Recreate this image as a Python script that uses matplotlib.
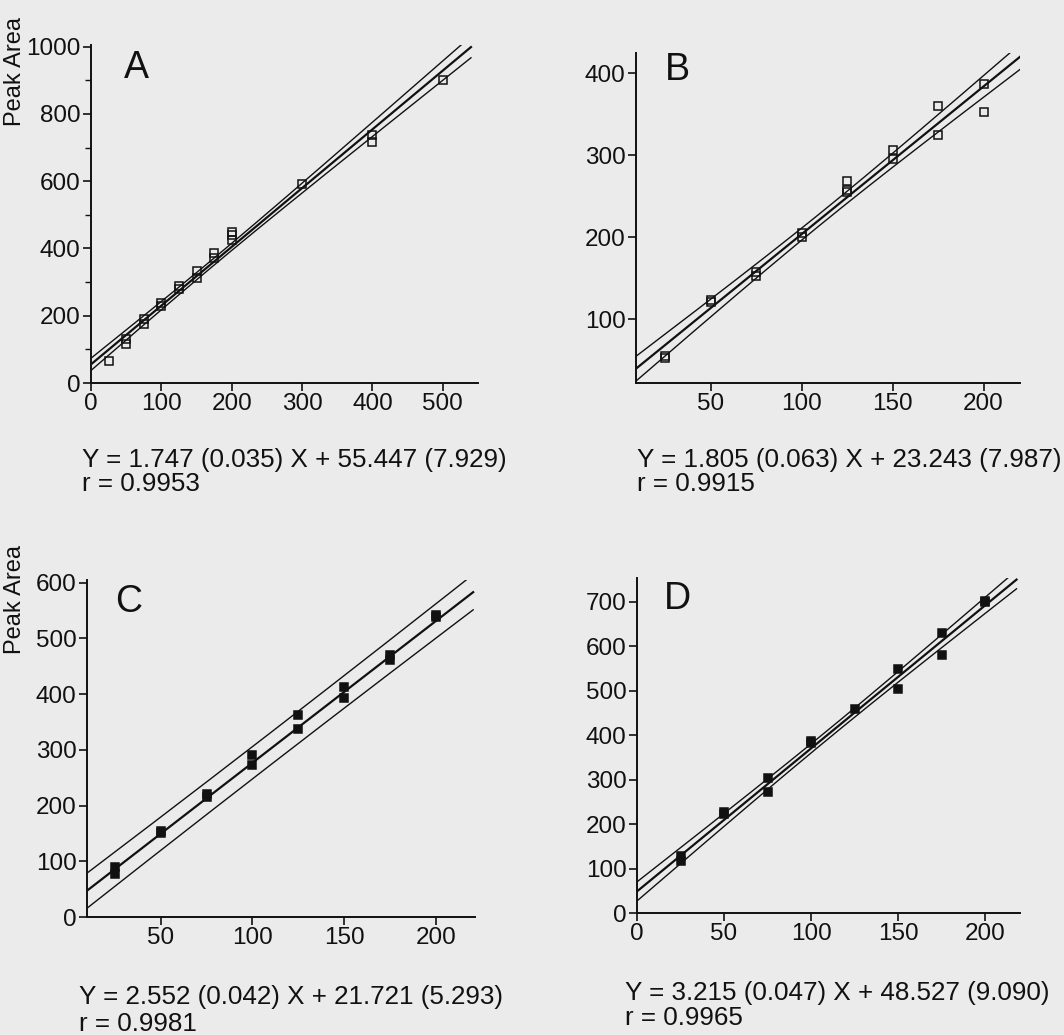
import numpy as np
import matplotlib
matplotlib.use('Agg')
import matplotlib.pyplot as plt

plt.rcParams['font.family'] = ['Liberation Sans', 'DejaVu Sans']

# ---- data ----
# A: aqueous standards (open squares)
a_x = [25, 50, 50, 75, 75, 100, 100, 125, 125, 150, 150, 175, 175, 200, 200, 200, 300, 400, 400, 500]
a_y = [65, 115, 130, 174, 189, 229, 239, 289, 279, 333, 313, 388, 373, 448, 425, 441, 592, 736, 718, 902]
# B (open squares)
b_x = [25, 25, 50, 50, 75, 75, 100, 100, 125, 125, 125, 150, 150, 175, 175, 200, 200]
b_y = [52, 55, 121, 123, 157, 153, 205, 200, 269, 258, 255, 306, 296, 360, 325, 387, 353]
# C (filled squares)
c_x = [25, 25, 50, 50, 75, 75, 100, 100, 125, 125, 150, 150, 175, 175, 200, 200]
c_y = [90, 77, 154, 150, 221, 215, 291, 272, 362, 338, 413, 394, 471, 461, 542, 538]
# D (filled squares)
d_x = [25, 25, 50, 50, 75, 75, 100, 100, 125, 150, 150, 175, 175, 200, 200]
d_y = [129, 116, 228, 223, 303, 273, 386, 383, 458, 548, 504, 630, 579, 702, 699]

# printed regression results: slope, intercept
a_fit = (1.747, 55.447)
b_fit = (1.805, 23.243)
c_fit = (2.552, 21.721)
d_fit = (3.215, 48.527)

a_eq = ['Y = 1.747 (0.035) X + 55.447 (7.929)', 'r = 0.9953']
b_eq = ['Y = 1.805 (0.063) X + 23.243 (7.987)', 'r = 0.9915']
c_eq = ['Y = 2.552 (0.042) X + 21.721 (5.293)', 'r = 0.9981']
d_eq = ['Y = 3.215 (0.047) X + 48.527 (9.090)', 'r = 0.9965']

W, H = 1064, 1035
BG = '#ebebeb'
INK = '#111111'
fig = plt.figure(figsize=(W / 100, H / 100), dpi=100, facecolor=BG)


def rect(l, t, r, b):
    return [l / W, 1 - b / H, (r - l) / W, (b - t) / H]


def band(x, y, fit, xs, t, pred):
    x = np.asarray(x, float)
    y = np.asarray(y, float)
    n = len(x)
    res = y - (fit[0] * x + fit[1])
    s = np.sqrt(np.sum(res ** 2) / (n - 2))
    sxx = np.sum((x - x.mean()) ** 2)
    return t * s * np.sqrt(pred + 1.0 / n + (xs - x.mean()) ** 2 / sxx)


def panel(box, x, y, fit, xlim, ylim, xticks, yticks, yminor, line_x, t, pred, filled):
    ax = fig.add_axes(rect(*box))
    ax.set_facecolor('none')
    xs = np.linspace(line_x[0], line_x[1], 200)
    yfit = fit[0] * xs + fit[1]
    h = band(x, y, fit, xs, t, pred)
    ax.plot(xs, yfit, color=INK, lw=1.6)
    ax.plot(xs, yfit + h, color=INK, lw=1.0)
    ax.plot(xs, yfit - h, color=INK, lw=1.0)
    ax.plot(x, y, 's', ms=5.5, mec=INK, mew=1.1,
            mfc=INK if filled else 'none', clip_on=False)
    ax.set_xlim(*xlim)
    ax.set_ylim(*ylim)
    ax.set_xticks(xticks)
    ax.set_yticks(yticks)
    if yminor:
        ax.set_yticks(yminor, minor=True)
    for s in ['top', 'right']:
        ax.spines[s].set_visible(False)
    for s in ['left', 'bottom']:
        ax.spines[s].set_linewidth(1.4)
        ax.spines[s].set_color(INK)
    ax.tick_params(which='major', length=6, width=1.2, labelsize=17.5, pad=1.5, colors=INK)
    ax.tick_params(which='minor', length=4, width=1.0, colors=INK)
    return ax


panel((91, 45, 478, 383), a_x, a_y, a_fit, (0, 550), (0, 1005),
      [0, 100, 200, 300, 400, 500], [0, 200, 400, 600, 800, 1000], [100, 300, 500, 700, 900],
      (0, 540), 2.0, 0, False)
panel((636, 53, 1020, 383), b_x, b_y, b_fit, (9, 220), (22, 425),
      [50, 100, 150, 200], [100, 200, 300, 400], None,
      (9, 220), 2.1, 0, False)
panel((87, 580, 475, 917), c_x, c_y, c_fit, (10, 221), (0, 605),
      [50, 100, 150, 200], [0, 100, 200, 300, 400, 500, 600], None,
      (10, 220), 2.98, 1, True)
panel((637, 578, 1020, 913), d_x, d_y, d_fit, (0, 220), (0, 753),
      [0, 50, 100, 150, 200], [0, 100, 200, 300, 400, 500, 600, 700], None,
      (0, 218), 2.16, 0, True)

# panel letters
for lab, px, py in [('A', 136, 68), ('B', 677, 70), ('C', 129, 602), ('D', 677, 599)]:
    fig.text(px / W, 1 - py / H, lab, fontsize=27, ha='center', va='center', color=INK)

# y labels
for py in [72, 600]:
    fig.text(15 / W, 1 - py / H, 'Peak Area', fontsize=17, rotation=90,
             ha='center', va='center', color=INK)

# regression equations
for eq, px, py, gap in [(a_eq, 82, 460, 24), (b_eq, 637, 460, 24),
                        (c_eq, 79, 997, 27), (d_eq, 625, 993, 25)]:
    fig.text(px / W, 1 - py / H, eq[0], fontsize=18.7, ha='left', va='center', color=INK)
    fig.text(px / W, 1 - (py + gap) / H, eq[1], fontsize=18.7, ha='left', va='center', color=INK)

fig.savefig('out.png', dpi=100, facecolor=BG)
